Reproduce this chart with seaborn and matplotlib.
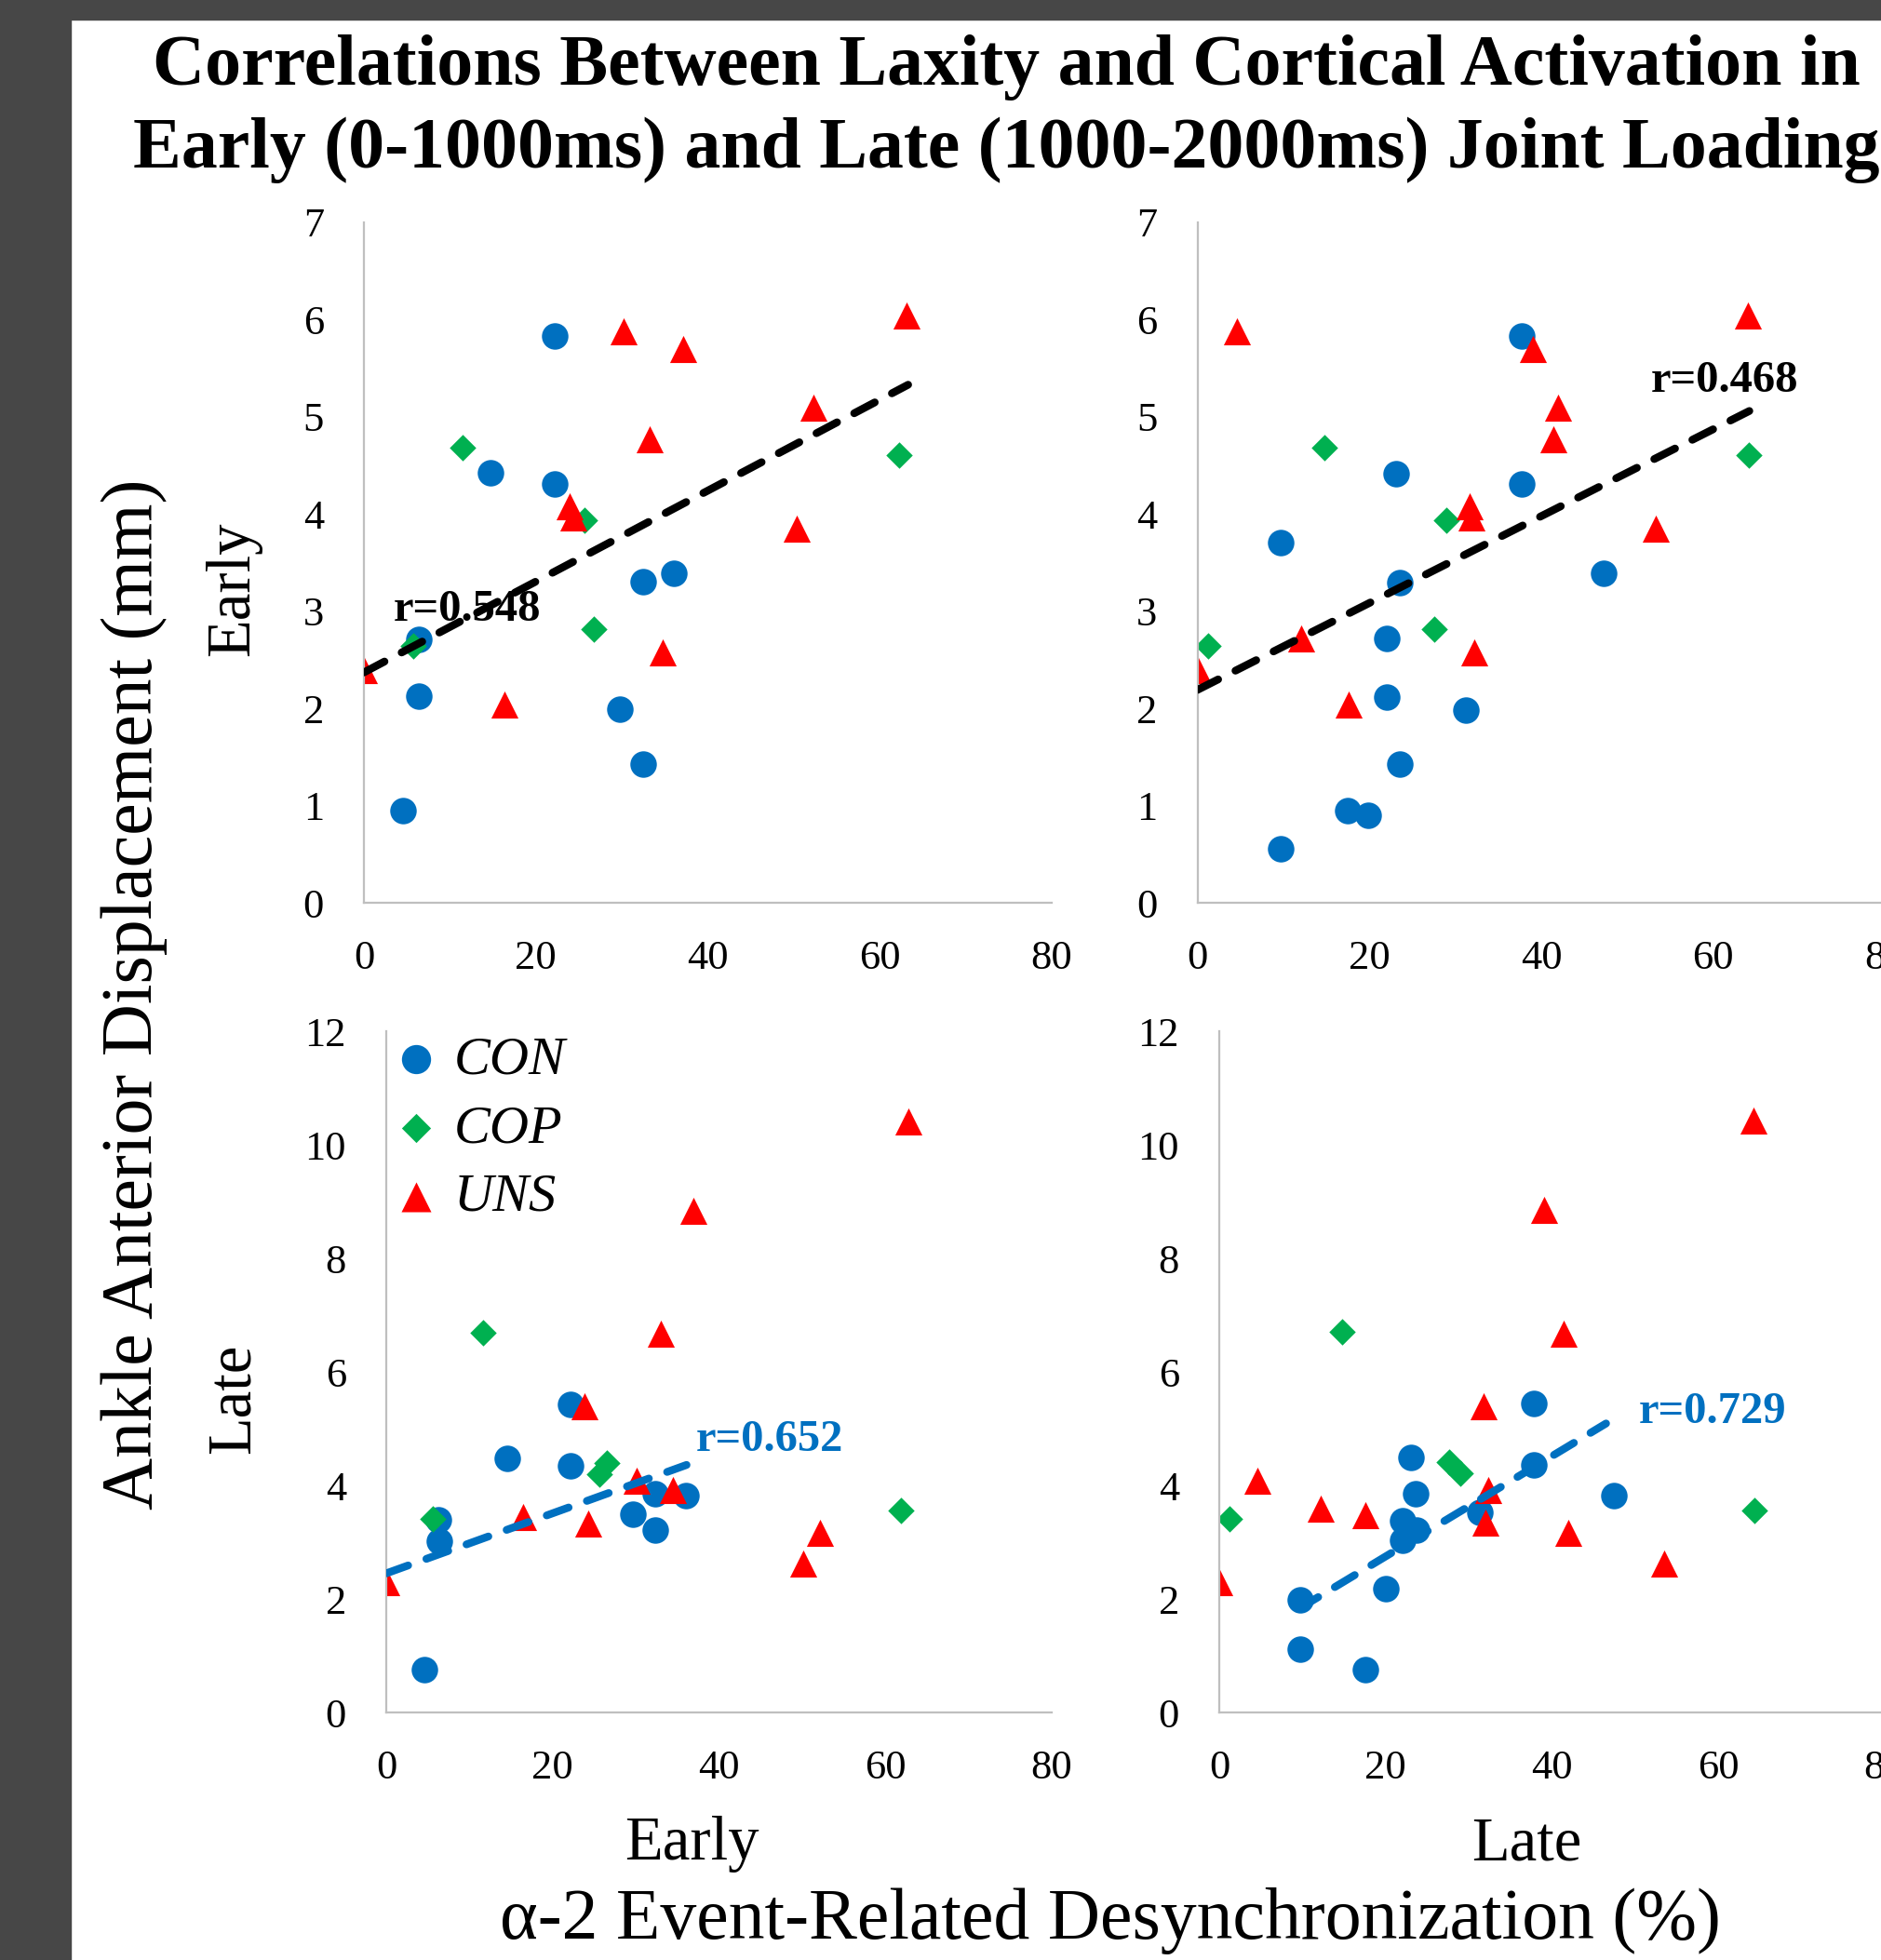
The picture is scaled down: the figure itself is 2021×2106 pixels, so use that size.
import seaborn as sns
import matplotlib.pyplot as plt
from matplotlib.patches import Rectangle

# values
# top-left: early ERD vs early displacement
tl_con_x = [22.2, 14.7, 22.2, 32.5, 36.1, 6.4, 6.4, 29.8, 32.5, 4.6]
tl_con_y = [5.83, 4.42, 4.31, 3.30, 3.39, 2.71, 2.13, 1.99, 1.43, 0.95]
tl_cop_x = [11.5, 25.7, 26.7, 5.7, 62.2]
tl_cop_y = [4.68, 3.94, 2.82, 2.64, 4.61]
tl_uns_x = [30.2, 37.1, 63.1, 52.3, 33.2, 23.9, 24.4, 50.3, 34.8, 0.0, 16.4]
tl_uns_y = [5.88, 5.70, 6.04, 5.09, 4.77, 4.08, 3.96, 3.85, 2.58, 2.39, 2.04]

# top-right: late ERD vs early displacement
tr_con_x = [37.7, 23.1, 37.7, 9.7, 23.5, 47.3, 22.0, 22.0, 31.2, 23.5, 17.5, 19.9, 9.7]
tr_con_y = [5.83, 4.41, 4.31, 3.71, 3.29, 3.39, 2.72, 2.12, 1.98, 1.43, 0.95, 0.90, 0.56]
tr_cop_x = [14.8, 29.0, 27.6, 1.2, 64.1]
tr_cop_y = [4.68, 3.94, 2.82, 2.64, 4.61]
tr_uns_x = [4.6, 39.0, 64.0, 41.9, 41.4, 31.7, 31.9, 53.3, 32.2, 0.0, 17.6, 12.1]
tr_uns_y = [5.88, 5.70, 6.04, 5.09, 4.77, 4.08, 3.96, 3.85, 2.58, 2.39, 2.04, 2.72]

# bottom-left: early ERD vs late displacement
bl_con_x = [22.1, 14.6, 22.1, 6.3, 6.4, 29.6, 32.3, 32.3, 36.0, 4.6]
bl_con_y = [5.43, 4.48, 4.35, 3.39, 3.02, 3.50, 3.22, 3.86, 3.82, 0.75]
bl_cop_x = [11.6, 26.5, 25.6, 5.6, 61.9]
bl_cop_y = [6.69, 4.40, 4.20, 3.41, 3.55]
bl_uns_x = [62.8, 36.9, 33.0, 23.8, 30.1, 34.5, 16.4, 24.3, 52.1, 50.1, 0.0]
bl_uns_y = [10.41, 8.84, 6.67, 5.39, 4.08, 3.91, 3.45, 3.33, 3.16, 2.62, 2.30]

# bottom-right: late ERD vs late displacement
br_con_x = [37.8, 23.1, 37.8, 23.6, 47.4, 22.0, 23.7, 22.0, 31.3, 20.0, 9.7, 9.7, 17.6]
br_con_y = [5.44, 4.49, 4.36, 3.85, 3.82, 3.38, 3.21, 3.03, 3.53, 2.18, 1.99, 1.12, 0.75]
br_cop_x = [14.8, 27.6, 29.0, 1.25, 64.3]
br_cop_y = [6.70, 4.41, 4.21, 3.41, 3.56]
br_uns_x = [64.2, 39.1, 41.4, 31.8, 4.6, 32.3, 12.2, 17.6, 32.0, 42.0, 53.5, 0.0]
br_uns_y = [10.43, 8.86, 6.68, 5.40, 4.08, 3.91, 3.59, 3.47, 3.34, 3.16, 2.62, 2.30]

# trend lines (end points) and their r labels
tl_fit_x, tl_fit_y = [0, 63.3], [2.37, 5.33]
tr_fit_x, tr_fit_y = [0, 64.2], [2.19, 5.06]
bl_fit_x, bl_fit_y = [0, 36.1], [2.45, 4.36]
br_fit_x, br_fit_y = [9.5, 46.5], [1.82, 5.09]
r_labels = ["r=0.548", "r=0.468", "r=0.652", "r=0.729"]
r_pos = [(3.4, 3.02), (52.8, 5.37), (37.2, 4.81), (50.4, 5.29)]

groups = ["CON", "COP", "UNS"]
x_ticks = [0, 20, 40, 60, 80]

CON_COLOR = "#0070C0"
COP_COLOR = "#00B050"
UNS_COLOR = "#FF0000"
SERIF = ["Liberation Serif", "DejaVu Serif"]

sns.set_theme(style="white")
plt.rcParams["font.family"] = SERIF
plt.rcParams["text.color"] = "black"
plt.rcParams["axes.labelcolor"] = "black"
plt.rcParams["lines.scale_dashes"] = False

W, H = 2021, 2106
fig = plt.figure(figsize=(W / 100, H / 100), dpi=100)
fig.patch.set_facecolor("white")

# dark frame on top and left
fig.patches.append(Rectangle((0, 1 - 21 / H), 1, 21 / H, transform=fig.transFigure,
                             color="#474747", zorder=0))
fig.patches.append(Rectangle((0, 0), 76 / W, 1, transform=fig.transFigure,
                             color="#474747", zorder=0))


def box(left, top, right, bottom):
    return [left / W, 1 - bottom / H, (right - left) / W, (bottom - top) / H]


ax_tl = fig.add_axes(box(391, 239, 1130, 970))
ax_tr = fig.add_axes(box(1286.5, 239, 2025.5, 970))
ax_bl = fig.add_axes(box(415, 1108, 1130, 1840))
ax_br = fig.add_axes(box(1310, 1108, 2025, 1840))


def draw_panel(ax, con, cop, uns, fit, fit_color, r_text, r_xy, ymax, ystep):
    sns.scatterplot(x=con[0], y=con[1], ax=ax, marker="o", s=420, color=CON_COLOR,
                    linewidth=0, zorder=2, label="CON")
    sns.scatterplot(x=cop[0], y=cop[1], ax=ax, marker="D", s=210, color=COP_COLOR,
                    linewidth=0, zorder=2, label="COP")
    sns.scatterplot(x=uns[0], y=uns[1], ax=ax, marker="^", s=440, color=UNS_COLOR,
                    linewidth=0, zorder=2, label="UNS")
    sns.lineplot(x=fit[0], y=fit[1], ax=ax, color=fit_color, linewidth=6,
                 linestyle=(0, (18, 15)), dash_capstyle="round", zorder=4)
    ax.text(r_xy[0], r_xy[1], r_text, color=fit_color, fontsize=35, fontweight="bold",
            ha="left", va="center", zorder=3)
    ax.set_xlim(0, 80)
    ax.set_ylim(0, ymax)
    ax.set_xticks(x_ticks)
    ax.set_yticks(list(range(0, ymax + 1, ystep)))
    ax.set_xlabel("")
    ax.set_ylabel("")
    for side in ["top", "right"]:
        ax.spines[side].set_visible(False)
    for side in ["left", "bottom"]:
        ax.spines[side].set_color("#BFBFBF")
        ax.spines[side].set_linewidth(1.6)
    ax.tick_params(axis="both", length=0, labelsize=32, colors="black")
    ax.tick_params(axis="x", pad=29)
    ax.tick_params(axis="y", pad=31)
    ax.set_facecolor("none")
    if ax.get_legend() is not None:
        ax.get_legend().remove()


draw_panel(ax_tl, (tl_con_x, tl_con_y), (tl_cop_x, tl_cop_y), (tl_uns_x, tl_uns_y),
           (tl_fit_x, tl_fit_y), "black", r_labels[0], r_pos[0], 7, 1)
draw_panel(ax_tr, (tr_con_x, tr_con_y), (tr_cop_x, tr_cop_y), (tr_uns_x, tr_uns_y),
           (tr_fit_x, tr_fit_y), "black", r_labels[1], r_pos[1], 7, 1)
draw_panel(ax_bl, (bl_con_x, bl_con_y), (bl_cop_x, bl_cop_y), (bl_uns_x, bl_uns_y),
           (bl_fit_x, bl_fit_y), CON_COLOR, r_labels[2], r_pos[2], 12, 2)
draw_panel(ax_br, (br_con_x, br_con_y), (br_cop_x, br_cop_y), (br_uns_x, br_uns_y),
           (br_fit_x, br_fit_y), CON_COLOR, r_labels[3], r_pos[3], 12, 2)

# legend inside the bottom-left panel
handles = ax_bl.collections[:3]
ax_bl.legend(handles, groups, loc="upper left", bbox_to_anchor=(0.012, 0.994),
             frameon=False, borderpad=0, borderaxespad=0, handlelength=0.8,
             handletextpad=0.3, labelspacing=0.36, scatterpoints=1, markerscale=1.1,
             prop={"family": SERIF, "style": "italic", "size": 42})

# titles and labels
fig.text(0.535, 1 - 72 / H, "Correlations Between Laxity and Cortical Activation in",
         ha="center", va="center", fontsize=56, fontweight="bold")
fig.text(0.535, 1 - 161 / H, "Early (0-1000ms) and Late (1000-2000ms) Joint Loading",
         ha="center", va="center", fontsize=56, fontweight="bold")
fig.text(144 / W, 1 - 1068 / H, "Ankle Anterior Displacement (mm)", rotation=90,
         ha="center", va="center", fontsize=56)
fig.text(251 / W, 1 - 633 / H, "Early", rotation=90, ha="center", va="center", fontsize=48)
fig.text(251 / W, 1 - 1503 / H, "Late", rotation=90, ha="center", va="center", fontsize=48)
fig.text(743 / W, 1 - 1982 / H, "Early", ha="center", va="center", fontsize=48)
fig.text(1640 / W, 1 - 1982 / H, "Late", ha="center", va="center", fontsize=48)
fig.text(1193 / W, 1 - 2064 / H, "α-2 Event-Related Desynchronization (%)",
         ha="center", va="center", fontsize=56)

fig.savefig("out.png", dpi=100, facecolor="white")
